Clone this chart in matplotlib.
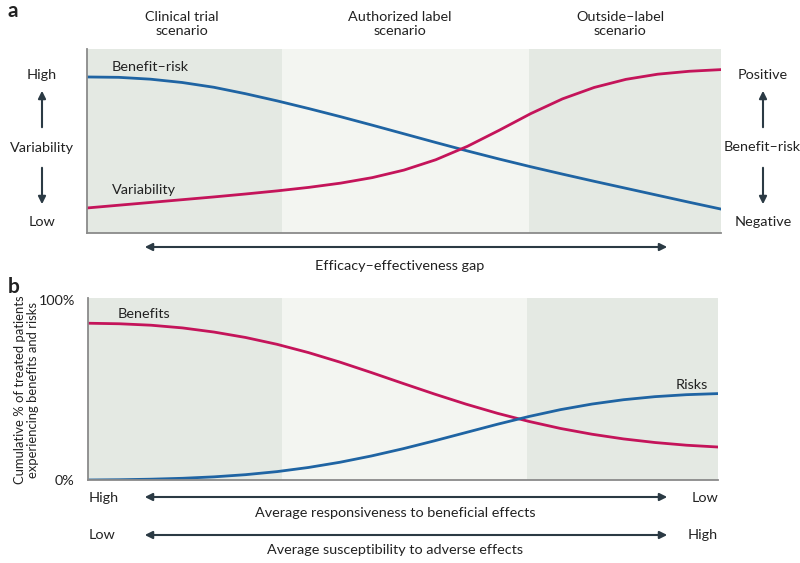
import numpy as np
import matplotlib.pyplot as plt
from matplotlib.patches import FancyArrowPatch

plt.rcParams['font.family'] = ['Lato', 'DejaVu Sans']

# panel a: position along the efficacy-effectiveness axis (0..1)
x_a = np.linspace(0, 1, 21)
benefit_risk = [0.848, 0.846, 0.836, 0.818, 0.792, 0.757, 0.718, 0.676, 0.632, 0.586, 0.539,
                0.492, 0.446, 0.402, 0.360, 0.320, 0.281, 0.243, 0.205, 0.167, 0.130]
variability = [0.136, 0.151, 0.166, 0.181, 0.196, 0.212, 0.229, 0.248, 0.271, 0.301, 0.342,
               0.398, 0.471, 0.558, 0.649, 0.729, 0.791, 0.835, 0.863, 0.879, 0.888]

# panel b: cumulative % of treated patients
x_b = np.linspace(0, 1, 21)
benefits = [87, 86.7, 85.9, 84.4, 82.1, 79.1, 75.3, 70.7, 65.4, 59.6, 53.6,
            47.7, 42.1, 37.0, 32.5, 28.6, 25.4, 22.8, 20.8, 19.3, 18.3]
risks = [0, 0.15, 0.45, 0.95, 1.75, 2.95, 4.65, 6.95, 9.85, 13.35, 17.35,
         21.75, 26.35, 30.95, 35.25, 39.05, 42.15, 44.55, 46.25, 47.35, 47.95]

scenarios = ['Clinical trial\nscenario', 'Authorized label\nscenario', 'Outside\u2013label\nscenario']
bounds = [0, 0.308, 0.697, 1]

BLUE = '#1f64a3'
PINK = '#c4145a'
DARK = '#2b3a44'
TXT = '#222222'
SHADE = ['#e4e9e3', '#f3f5f1', '#e4e9e3']
FS = 10.4

W, H = 800, 563
fig = plt.figure(figsize=(W / 100, H / 100), dpi=100)


def fx(x):
    return x / W


def fy(y):
    return 1 - y / H


def arrow(x0, y0, x1, y1, style='-|>'):
    fig.add_artist(FancyArrowPatch(
        (fx(x0), fy(y0)), (fx(x1), fy(y1)), transform=fig.transFigure,
        arrowstyle=style, mutation_scale=11, color=DARK, lw=1.5))


def txt(x, y, s, ha='center', va='center', **kw):
    fig.text(fx(x), fy(y), s, ha=ha, va=va, fontsize=FS, color=TXT, **kw)


def style_ax(ax):
    for i in range(3):
        ax.axvspan(bounds[i], bounds[i + 1], color=SHADE[i], lw=0, zorder=0)
    ax.set_xlim(0, 1)
    for s in ['top', 'right']:
        ax.spines[s].set_visible(False)
    for s in ['left', 'bottom']:
        ax.spines[s].set_color('#8a8a8a')
        ax.spines[s].set_linewidth(1.3)
    ax.set_xticks([])
    ax.tick_params(left=False)


# ---- panel a
ax1 = fig.add_axes([fx(87), fy(233), (721 - 87) / W, (233 - 49) / H])
style_ax(ax1)
ax1.plot(x_a, benefit_risk, color=BLUE, lw=2)
ax1.plot(x_a, variability, color=PINK, lw=2)
ax1.set_ylim(0, 1)
ax1.set_yticks([])

txt(112, 67, 'Benefit\u2013risk', ha='left')
txt(112, 190, 'Variability', ha='left')
for name, xc in zip(scenarios, [182, 400, 620]):
    txt(xc, 24, name, linespacing=1.2)

txt(42, 75, 'High')
txt(42, 148, 'Variability')
txt(42, 222, 'Low')
arrow(42, 130, 42, 88)
arrow(42, 165, 42, 207)
txt(763, 75, 'Positive')
txt(762, 147, 'Benefit\u2013risk')
txt(763, 222, 'Negative')
arrow(763, 130, 763, 88)
arrow(763, 165, 763, 207)
arrow(142, 247, 670, 247, style='<|-|>')
txt(400, 266, 'Efficacy\u2013effectiveness gap')
fig.text(fx(8), fy(11), 'a', fontsize=15, fontweight='bold', color=TXT, va='center')

# ---- panel b
ax2 = fig.add_axes([fx(88), fy(480), (718 - 88) / W, (480 - 298) / H])
style_ax(ax2)
ax2.plot(x_b, benefits, color=PINK, lw=2)
ax2.plot(x_b, risks, color=BLUE, lw=2)
ax2.set_ylim(0, 101)
ax2.set_yticks([0, 100])
ax2.set_yticklabels(['0%', '100%'], fontsize=FS, color=TXT)
ax2.tick_params(axis='y', pad=6)
fig.text(fx(27), fy(390), 'Cumulative % of treated patients\nexperiencing benefits and risks',
         rotation=90, ha='center', va='center', fontsize=9.4, color=TXT, linespacing=1.1)

txt(118, 314, 'Benefits', ha='left')
txt(708, 385, 'Risks', ha='right')

txt(89, 498, 'High', ha='left')
txt(718, 498, 'Low', ha='right')
arrow(142, 497, 670, 497, style='<|-|>')
txt(395, 513, 'Average responsiveness to beneficial effects')
txt(89, 535, 'Low', ha='left')
txt(718, 535, 'High', ha='right')
arrow(142, 535, 670, 535, style='<|-|>')
txt(395, 550, 'Average susceptibility to adverse effects')
fig.text(fx(8), fy(287), 'b', fontsize=15, fontweight='bold', color=TXT, va='center')

fig.savefig('out.png', dpi=100, facecolor='white')
